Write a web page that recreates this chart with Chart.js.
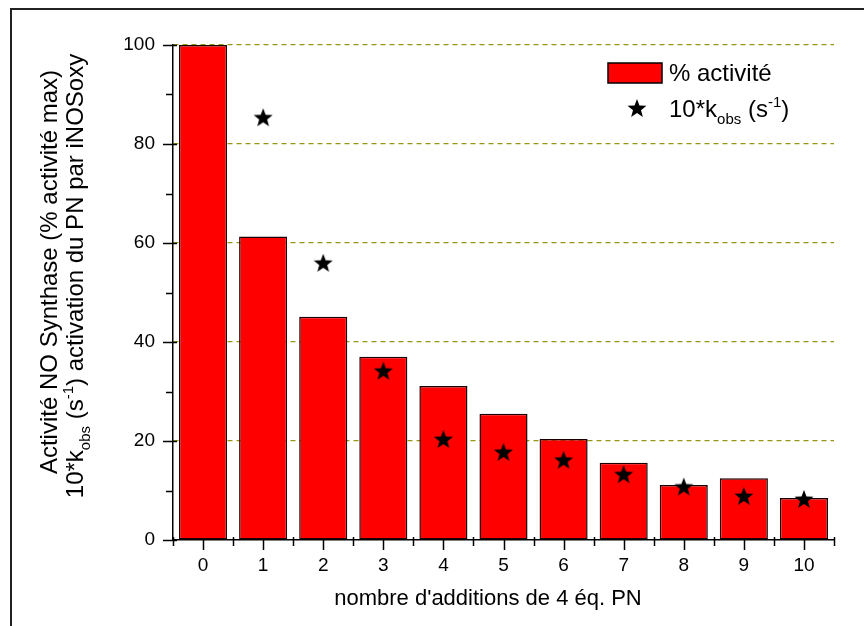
<!DOCTYPE html>
<html>
<head>
<meta charset="utf-8">
<script src="https://cdn.jsdelivr.net/npm/chart.js@4"></script>
<style>
  html, body { margin: 0; padding: 0; background: #fff; }
  #wrap { width: 864px; height: 626px; position: relative; }
</style>
</head>
<body>
<div id="wrap"><canvas id="chart" width="864" height="626"></canvas></div>
<script>
// données
const additions = ['0', '1', '2', '3', '4', '5', '6', '7', '8', '9', '10'];
const activite = [100, 61.3, 45.1, 37.0, 31.1, 25.5, 20.4, 15.6, 11.1, 12.5, 8.5];
const kobs = [null, 85.4, 56.0, 34.2, 20.4, 17.8, 16.2, 13.3, 10.8, 8.9, 8.3];
const yTicks = [0, 20, 40, 60, 80, 100];

const FONT = '"Liberation Sans", Arial, sans-serif';

// étoile pleine à 5 branches pour les points
function makeStar(size) {
  const cv = document.createElement('canvas');
  cv.width = size; cv.height = size;
  const g = cv.getContext('2d');
  const r = size / 2, ri = r * 0.42, cy = r * 1.09;
  g.fillStyle = '#000';
  g.beginPath();
  for (let i = 0; i < 10; i++) {
    const a = -Math.PI / 2 + i * Math.PI / 5;
    const rr = i % 2 === 0 ? r : ri;
    g.lineTo(r + rr * Math.cos(a), cy + rr * Math.sin(a));
  }
  g.closePath();
  g.fill();
  return cv;
}
const starImg = makeStar(20);

// texte avec indices / exposants
function drawRuns(ctx, runs, x, y, size, align) {
  const parts = runs.map(r => {
    const s = r.sub || r.sup ? Math.round(size * 0.62) : size;
    ctx.font = s + 'px ' + FONT;
    return { t: r.t, s: s, dy: r.sub ? size * 0.28 : r.sup ? -size * 0.42 : 0, w: ctx.measureText(r.t).width };
  });
  const total = parts.reduce((a, p) => a + p.w, 0);
  let cx = align === 'center' ? x - total / 2 : x;
  ctx.textAlign = 'left';
  ctx.textBaseline = 'alphabetic';
  parts.forEach(p => {
    ctx.font = p.s + 'px ' + FONT;
    ctx.fillText(p.t, cx, y + p.dy);
    cx += p.w;
  });
}

const decor = {
  id: 'decor',
  afterDraw(chart) {
    const ctx = chart.ctx, xs = chart.scales.x, ys = chart.scales.y;
    const area = chart.chartArea;
    ctx.save();
    ctx.strokeStyle = '#000';
    ctx.fillStyle = '#000';
    ctx.lineWidth = 1.5;
    ctx.beginPath();
    // graduations y
    for (let v = 0; v <= 100; v += 10) {
      const py = Math.round(ys.getPixelForValue(v)) + 0.5;
      if (v % 20 === 0) { ctx.moveTo(area.left - 10, py); ctx.lineTo(area.left + 4, py); }
      else { ctx.moveTo(area.left - 7, py); ctx.lineTo(area.left, py); }
    }
    // graduations x
    additions.forEach((c, i) => {
      const px = Math.round(xs.getPixelForValue(i)) + 0.5;
      ctx.moveTo(px, area.bottom); ctx.lineTo(px, area.bottom + 10);
    });
    for (let i = 0; i <= additions.length; i++) {
      const px = Math.round(xs.getPixelForValue(i - 0.5)) + 0.5;
      ctx.moveTo(px, area.bottom - 3); ctx.lineTo(px, area.bottom + 6);
    }
    ctx.stroke();

    // titre x
    ctx.font = '22px ' + FONT;
    ctx.textAlign = 'center';
    ctx.textBaseline = 'alphabetic';
    ctx.fillText("nombre d'additions de 4 éq. PN", 488, 605);

    // titre y (deux lignes, tournées)
    ctx.save();
    ctx.translate(57, 272);
    ctx.rotate(-Math.PI / 2);
    drawRuns(ctx, [{ t: 'Activité NO Synthase (% activité max)' }], 0, 0, 24, 'center');
    ctx.restore();
    ctx.save();
    ctx.translate(83, 276);
    ctx.rotate(-Math.PI / 2);
    drawRuns(ctx, [{ t: '10*k' }, { t: 'obs', sub: true }, { t: ' (s' }, { t: '-1', sup: true }, { t: ') activation du PN par iNOSoxy' }], 0, 0, 24, 'center');
    ctx.restore();

    // légende
    ctx.fillStyle = '#ff0000';
    ctx.fillRect(608, 63, 54, 20);
    ctx.lineWidth = 1.5;
    ctx.strokeStyle = '#000';
    ctx.strokeRect(608, 63, 54, 20);
    ctx.fillStyle = '#000';
    drawRuns(ctx, [{ t: '% activité' }], 669, 81, 24, 'left');
    ctx.drawImage(starImg, 637 - 10, 108 - 10);
    drawRuns(ctx, [{ t: '10*k' }, { t: 'obs', sub: true }, { t: ' (s' }, { t: '-1', sup: true }, { t: ')' }], 669, 117, 24, 'left');

    // cadre extérieur
    ctx.lineWidth = 2;
    ctx.strokeStyle = '#222';
    ctx.strokeRect(11, 9, 900, 700);
    ctx.restore();
  }
};

const ctx = document.getElementById('chart').getContext('2d');
new Chart(ctx, {
  type: 'bar',
  data: {
    labels: additions,
    datasets: [{
      label: '% activité',
      data: activite,
      backgroundColor: '#ff0000',
      borderColor: '#1a0000',
      borderWidth: 1.5,
      borderSkipped: false,
      barPercentage: 0.8,
      categoryPercentage: 1.0,
      order: 2
    }, {
      type: 'line',
      label: '10*kobs (s-1)',
      data: kobs,
      showLine: false,
      pointStyle: starImg,
      pointRadius: 10,
      order: 1
    }]
  },
  options: {
    responsive: false,
    animation: false,
    devicePixelRatio: 1,
    layout: { padding: { left: 0, top: 45, right: 30, bottom: 0 } },
    plugins: { legend: { display: false }, tooltip: { enabled: false } },
    scales: {
      x: {
        offset: true,
        grid: { display: true, drawOnChartArea: false, drawTicks: false, color: 'rgba(0,0,0,0)' },
        border: { display: true, color: '#000', width: 1.5 },
        ticks: { color: '#000', font: { family: FONT, size: 19 }, padding: 14, maxRotation: 0 },
        afterFit: s => { s.height = 86; }
      },
      y: {
        min: 0,
        max: 100,
        afterBuildTicks: s => { s.ticks = yTicks.map(v => ({ value: v })); },
        grid: {
          drawTicks: false,
          lineWidth: 1.2,
          color: c => (c.tick && c.tick.value === 0 ? 'rgba(0,0,0,0)' : 'rgb(150,150,20)')
        },
        border: { display: true, color: '#000', width: 1.5, dash: [5, 4] },
        ticks: { color: '#000', font: { family: FONT, size: 19 }, padding: 18 },
        afterFit: s => { s.width = 173; }
      }
    }
  },
  plugins: [decor]
});
</script>
</body>
</html>
